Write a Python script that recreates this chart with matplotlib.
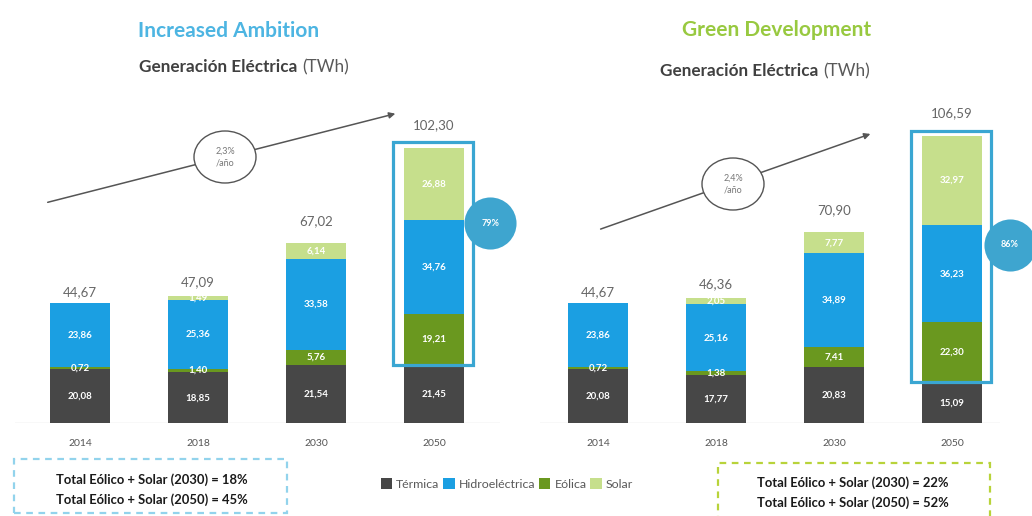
import matplotlib
matplotlib.use("Agg")
import matplotlib.pyplot as plt
from matplotlib.patches import Rectangle, Ellipse, Patch, FancyArrowPatch

plt.rcParams['font.family'] = ['Lato', 'DejaVu Sans']

# ---- data (TWh) ----
years = ["2014", "2018", "2030", "2050"]
series = ["Térmica", "Hidroeléctrica", "Eólica", "Solar"]

ia_termica = [20.08, 18.85, 21.54, 21.45]
ia_eolica = [0.72, 1.40, 5.76, 19.21]
ia_hidro = [23.86, 25.36, 33.58, 34.76]
ia_solar = [0.0, 1.49, 6.14, 26.88]
ia_totals = [44.67, 47.09, 67.02, 102.30]

gd_termica = [20.08, 17.77, 20.83, 15.09]
gd_eolica = [0.72, 1.38, 7.41, 22.30]
gd_hidro = [23.86, 25.16, 34.89, 36.23]
gd_solar = [0.0, 2.05, 7.77, 32.97]
gd_totals = [44.67, 46.36, 70.90, 106.59]

ia_growth = "2,3%\n/año"
gd_growth = "2,4%\n/año"
ia_renew_2050 = "79%"
gd_renew_2050 = "86%"
ia_share = ["Total Eólico + Solar (2030) = 18%", "Total Eólico + Solar (2050) = 45%"]
gd_share = ["Total Eólico + Solar (2030) = 22%", "Total Eólico + Solar (2050) = 52%"]

# ---- style ----
C_TERM = "#474747"
C_HIDRO = "#1b9fe2"
C_EOL = "#6a981f"
C_SOL = "#c6df8c"
C_BLUE = "#3aa6d2"
W, H = 1032, 516


def fx(px):
    return px / W


def fy(py):
    return 1 - py / H


fig = plt.figure(figsize=(W / 100, H / 100), dpi=100)
fig.patch.set_facecolor("white")

PX_PER_UNIT = 2.69
BASE_PX = 423
STEP = 118.0


def fmt(v):
    return f"{v:.2f}".replace(".", ",")


def panel(x0_px, x1_px, first_center_px, termica, eolica, hidro, solar, totals,
          box_color, box_pad):
    ax = fig.add_axes([fx(x0_px), (H - BASE_PX) / H, (x1_px - x0_px) / W, BASE_PX / H])
    ax.set_xlim(-(first_center_px - x0_px) / STEP, (x1_px - first_center_px) / STEP)
    ax.set_ylim(0, BASE_PX / PX_PER_UNIT)
    ax.axis("off")
    ax.axhline(0, color="#dcdcdc", lw=1.0, zorder=0)
    x = list(range(len(years)))
    width = 60 / STEP
    bottom = [0.0] * len(years)
    for vals, col in zip([termica, eolica, hidro, solar], [C_TERM, C_EOL, C_HIDRO, C_SOL]):
        ax.bar(x, vals, width, bottom=bottom, color=col, edgecolor="none", zorder=2)
        for xi, b, v in zip(x, bottom, vals):
            if v >= 0.5:
                ax.text(xi, b + v / 2, fmt(v), ha="center", va="center", color="white",
                        fontsize=7, fontweight="bold", zorder=4)
        bottom = [b + v for b, v in zip(bottom, vals)]
    offsets = [11, 14, 22, 23]
    for xi, top, t, off in zip(x, bottom, totals, offsets):
        ax.annotate(fmt(t), (xi, top), xytext=(0, off * 0.72), textcoords="offset points",
                    ha="center", va="center", fontsize=9.5, color="#666666")
        ax.text(xi, -20 / PX_PER_UNIT, years[xi], ha="center", va="center",
                fontsize=7.5, color="#555555")
    # highlight on the last bar (renewables)
    last = len(years) - 1
    r_bottom = termica[last]
    r_top = bottom[last] + box_pad
    rect = Rectangle((last - 0.35, r_bottom), 0.68, r_top - r_bottom, fill=False,
                     edgecolor=box_color, lw=2.3, zorder=5, clip_on=False)
    ax.add_patch(rect)
    return ax


ax1 = panel(15, 500, 80, ia_termica, ia_eolica, ia_hidro, ia_solar, ia_totals, C_BLUE, 2.2)
ax2 = panel(540, 1000, 598, gd_termica, gd_eolica, gd_hidro, gd_solar, gd_totals, C_BLUE, 1.9)

# renewables share bubbles
for ax, xpos, ypos, label in [(ax1, 3.475, 74.3, ia_renew_2050), (ax2, 3.49, 66.2, gd_renew_2050)]:
    ax.plot([xpos], [ypos], marker="o", markersize=37.5, color="#3ea5cf",
            markeredgecolor="none", zorder=6, clip_on=False)
    ax.text(xpos, ypos, label, ha="center", va="center", color="white", fontsize=6.5,
            fontweight="bold", zorder=7, clip_on=False)

# titles
fig.text(fx(229), fy(31), "Increased Ambition", ha="center", va="center",
         fontsize=15, fontweight="bold", color="#4db5e2")
fig.text(fx(777), fy(30), "Green Development", ha="center", va="center",
         fontsize=15, fontweight="bold", color="#98c940")
for xb, y in [(297, 67), (818, 71)]:
    fig.text(fx(xb), fy(y), "Generación Eléctrica", ha="right", va="center",
             fontsize=12.3, fontweight="bold", color="#404040")
    fig.text(fx(xb + 5), fy(y), "(TWh)", ha="left", va="center",
             fontsize=12.3, color="#595959")

# growth arrows
for (xs, ys), (xe, ye), (xc, yc), txt in [((45, 203), (398, 113), (225, 157), ia_growth),
                                           ((598, 230), (873, 133), (733, 184), gd_growth)]:
    fig.add_artist(FancyArrowPatch(
        (fx(xs), fy(ys)), (fx(xe), fy(ye)), transform=fig.transFigure,
        arrowstyle="-|>", mutation_scale=9, color="#555555", lw=1.1))
    fig.add_artist(Ellipse((fx(xc), fy(yc)), 62 / W, 52 / H, transform=fig.transFigure,
                           facecolor="white", edgecolor="#555555", lw=1.0, zorder=3))
    fig.text(fx(xc), fy(yc), txt, ha="center", va="center", fontsize=6.5,
             color="#777777", linespacing=1.5, zorder=4)

# legend
handles = [Patch(facecolor=c, edgecolor="none", label=s)
           for c, s in zip([C_TERM, C_HIDRO, C_EOL, C_SOL], series)]
leg = fig.legend(handles=handles, loc="center", bbox_to_anchor=(fx(507), fy(484)), ncol=4,
                 frameon=False, handlelength=0.9, handleheight=0.9, handletextpad=0.35,
                 columnspacing=0.3, fontsize=8.9)
for t in leg.get_texts():
    t.set_color("#595959")

# share boxes
for (x0, y0, x1, y1), col, lines, xc, ys in [
        ((14, 459, 287, 513), "#92d3ec", ia_share, 152, (480, 500)),
        ((718, 463, 990, 520), "#b8d33a", gd_share, 853, (483, 503))]:
    fig.add_artist(Rectangle((fx(x0), fy(y1)), (x1 - x0) / W, (y1 - y0) / H,
                             transform=fig.transFigure, fill=False, edgecolor=col,
                             lw=1.6, linestyle=(0, (3, 2.5))))
    for line, y in zip(lines, ys):
        fig.text(fx(xc), fy(y), line, ha="center", va="center", fontsize=9.4,
                 fontweight="bold", color="#1a1a1a")

fig.savefig("out.png", dpi=100, facecolor="white")
